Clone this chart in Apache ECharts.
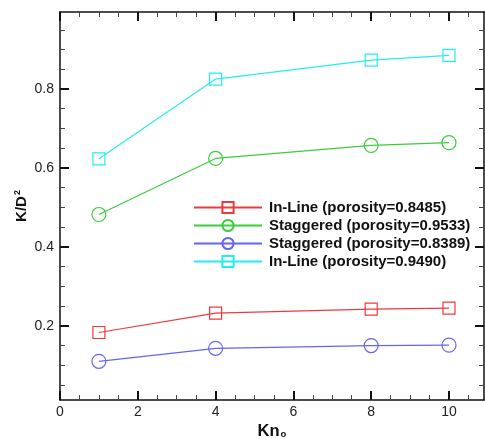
<!DOCTYPE html>
<html>
<head>
<meta charset="utf-8">
<script src="https://cdn.jsdelivr.net/npm/echarts@6/dist/echarts.min.js"></script>
<style>
  html, body { margin: 0; padding: 0; background: #fff; }
  #chart { width: 485px; height: 439px; }
</style>
</head>
<body>
<div id="chart"></div>
<script>
// Knudsen number values (x) and permeability K/D^2 for each configuration
const knValues = [1, 4, 8, 10];
const inline8485 = [0.183, 0.232, 0.242, 0.245];
const staggered9533 = [0.482, 0.624, 0.657, 0.664];
const staggered8389 = [0.110, 0.143, 0.150, 0.151];
const inline9490 = [0.623, 0.825, 0.873, 0.885];

const seriesNames = [
  'In-Line (porosity=0.8485)',
  'Staggered (porosity=0.9533)',
  'Staggered (porosity=0.8389)',
  'In-Line (porosity=0.9490)'
];

// Tick positions
const xMajorTicks = [0, 2, 4, 6, 8, 10];
const xMinorTicks = [0.5, 1, 1.5, 2.5, 3, 3.5, 4.5, 5, 5.5, 6.5, 7, 7.5, 8.5, 9, 9.5, 10.5];
const yMajorTicks = [0.2, 0.4, 0.6, 0.8];
const yMinorTicks = [0.05, 0.1, 0.15, 0.25, 0.3, 0.35, 0.45, 0.5, 0.55, 0.65, 0.7, 0.75, 0.85, 0.9, 0.95];

const X_MIN = 0, X_MAX = 10.9;
const Y_MIN = 0.012, Y_MAX = 0.995;

const FONT = 'Liberation Sans, Arial, Helvetica, sans-serif';

function pairs(ys) { return knValues.map((x, i) => [x, ys[i]]); }

function xAxisDef(position, ticks, len, width, color, showLine, showLabel) {
  return {
    type: 'value', position: position, min: X_MIN, max: X_MAX,
    splitLine: { show: false },
    axisLine: { show: showLine, onZero: false, lineStyle: { color: '#111', width: 1.5 } },
    axisTick: { show: true, inside: true, length: len, customValues: ticks, lineStyle: { color: color, width: width } },
    axisLabel: showLabel ? { show: true, customValues: xMajorTicks, margin: 5, color: '#222', fontSize: 14, fontFamily: FONT } : { show: false }
  };
}
function yAxisDef(position, ticks, len, width, color, showLine, showLabel) {
  return {
    type: 'value', position: position, min: Y_MIN, max: Y_MAX,
    splitLine: { show: false },
    axisLine: { show: showLine, onZero: false, lineStyle: { color: '#111', width: 1.5 } },
    axisTick: { show: true, inside: true, length: len, customValues: ticks, lineStyle: { color: color, width: width } },
    axisLabel: showLabel ? { show: true, customValues: yMajorTicks, margin: 6, color: '#222', fontSize: 14, fontFamily: FONT,
      formatter: v => v.toFixed(1) } : { show: false }
  };
}

const xAxes = [
  Object.assign(xAxisDef('bottom', xMajorTicks, 9, 2, '#111', true, true), {
    name: '{k|Kn}{o|o}', nameLocation: 'middle', nameGap: 23, nameMoveOverlap: false,
    nameTextStyle: { rich: {
      k: { fontSize: 16.5, fontWeight: 'bold', fontFamily: FONT, color: '#111' },
      o: { fontSize: 9.5, fontWeight: 'bold', fontFamily: FONT, color: '#111', padding: [6, 0, 0, 1] }
    } }
  }),
  xAxisDef('bottom', xMinorTicks, 5, 1, '#444', false, false),
  xAxisDef('top', xMajorTicks, 9, 2, '#111', true, false),
  xAxisDef('top', xMinorTicks, 5, 1, '#444', false, false)
];
const yAxes = [
  Object.assign(yAxisDef('left', yMajorTicks, 9, 2, '#111', true, true), {
    name: '{k|K/D}{s|2}', nameLocation: 'middle', nameGap: 30, nameRotate: 90, nameMoveOverlap: false,
    nameTextStyle: { rich: {
      k: { fontSize: 15, fontWeight: 'bold', fontFamily: FONT, color: '#111' },
      s: { fontSize: 9, fontWeight: 'bold', fontFamily: FONT, color: '#111', padding: [0, 0, 8, 1] }
    } }
  }),
  yAxisDef('left', yMinorTicks, 5, 1, '#444', false, false),
  yAxisDef('right', yMajorTicks, 9, 2, '#111', true, false),
  yAxisDef('right', yMinorTicks, 5, 1, '#444', false, false)
];

function lineSeries(name, ys, color, symbol, size) {
  return {
    name: name, type: 'line', data: pairs(ys), xAxisIndex: 0, yAxisIndex: 0,
    symbol: symbol, symbolSize: size, showAllSymbol: true,
    lineStyle: { color: color, width: 1.2 },
    itemStyle: { color: 'rgba(255,255,255,0)', borderColor: color, borderWidth: 1.2 },
    emphasis: { disabled: true },
    animation: false
  };
}

const colors = ['#ee3a3a', '#3ccc3c', '#6464f5', '#22eef0'];

const option = {
  backgroundColor: '#ffffff',
  animation: false,
  grid: { left: 60, top: 12, right: 1, bottom: 39, containLabel: false, outerBoundsMode: 'none' },
  legend: {
    orient: 'vertical', left: 188, top: 195, itemWidth: 68, itemHeight: 14, itemGap: 3,
    data: seriesNames,
    textStyle: { color: '#111', fontSize: 15, lineHeight: 15, fontWeight: 'bold', fontFamily: FONT, padding: [0, 0, 0, 2] }
  },
  xAxis: xAxes,
  yAxis: yAxes,
  series: [
    lineSeries(seriesNames[0], inline8485, colors[0], 'rect', 12),
    lineSeries(seriesNames[1], staggered9533, colors[1], 'circle', 14),
    lineSeries(seriesNames[2], staggered8389, colors[2], 'circle', 14),
    lineSeries(seriesNames[3], inline9490, colors[3], 'rect', 12)
  ]
};

const chart = echarts.init(document.getElementById('chart'), null, { renderer: 'canvas' });
chart.setOption(option);
</script>
</body>
</html>
